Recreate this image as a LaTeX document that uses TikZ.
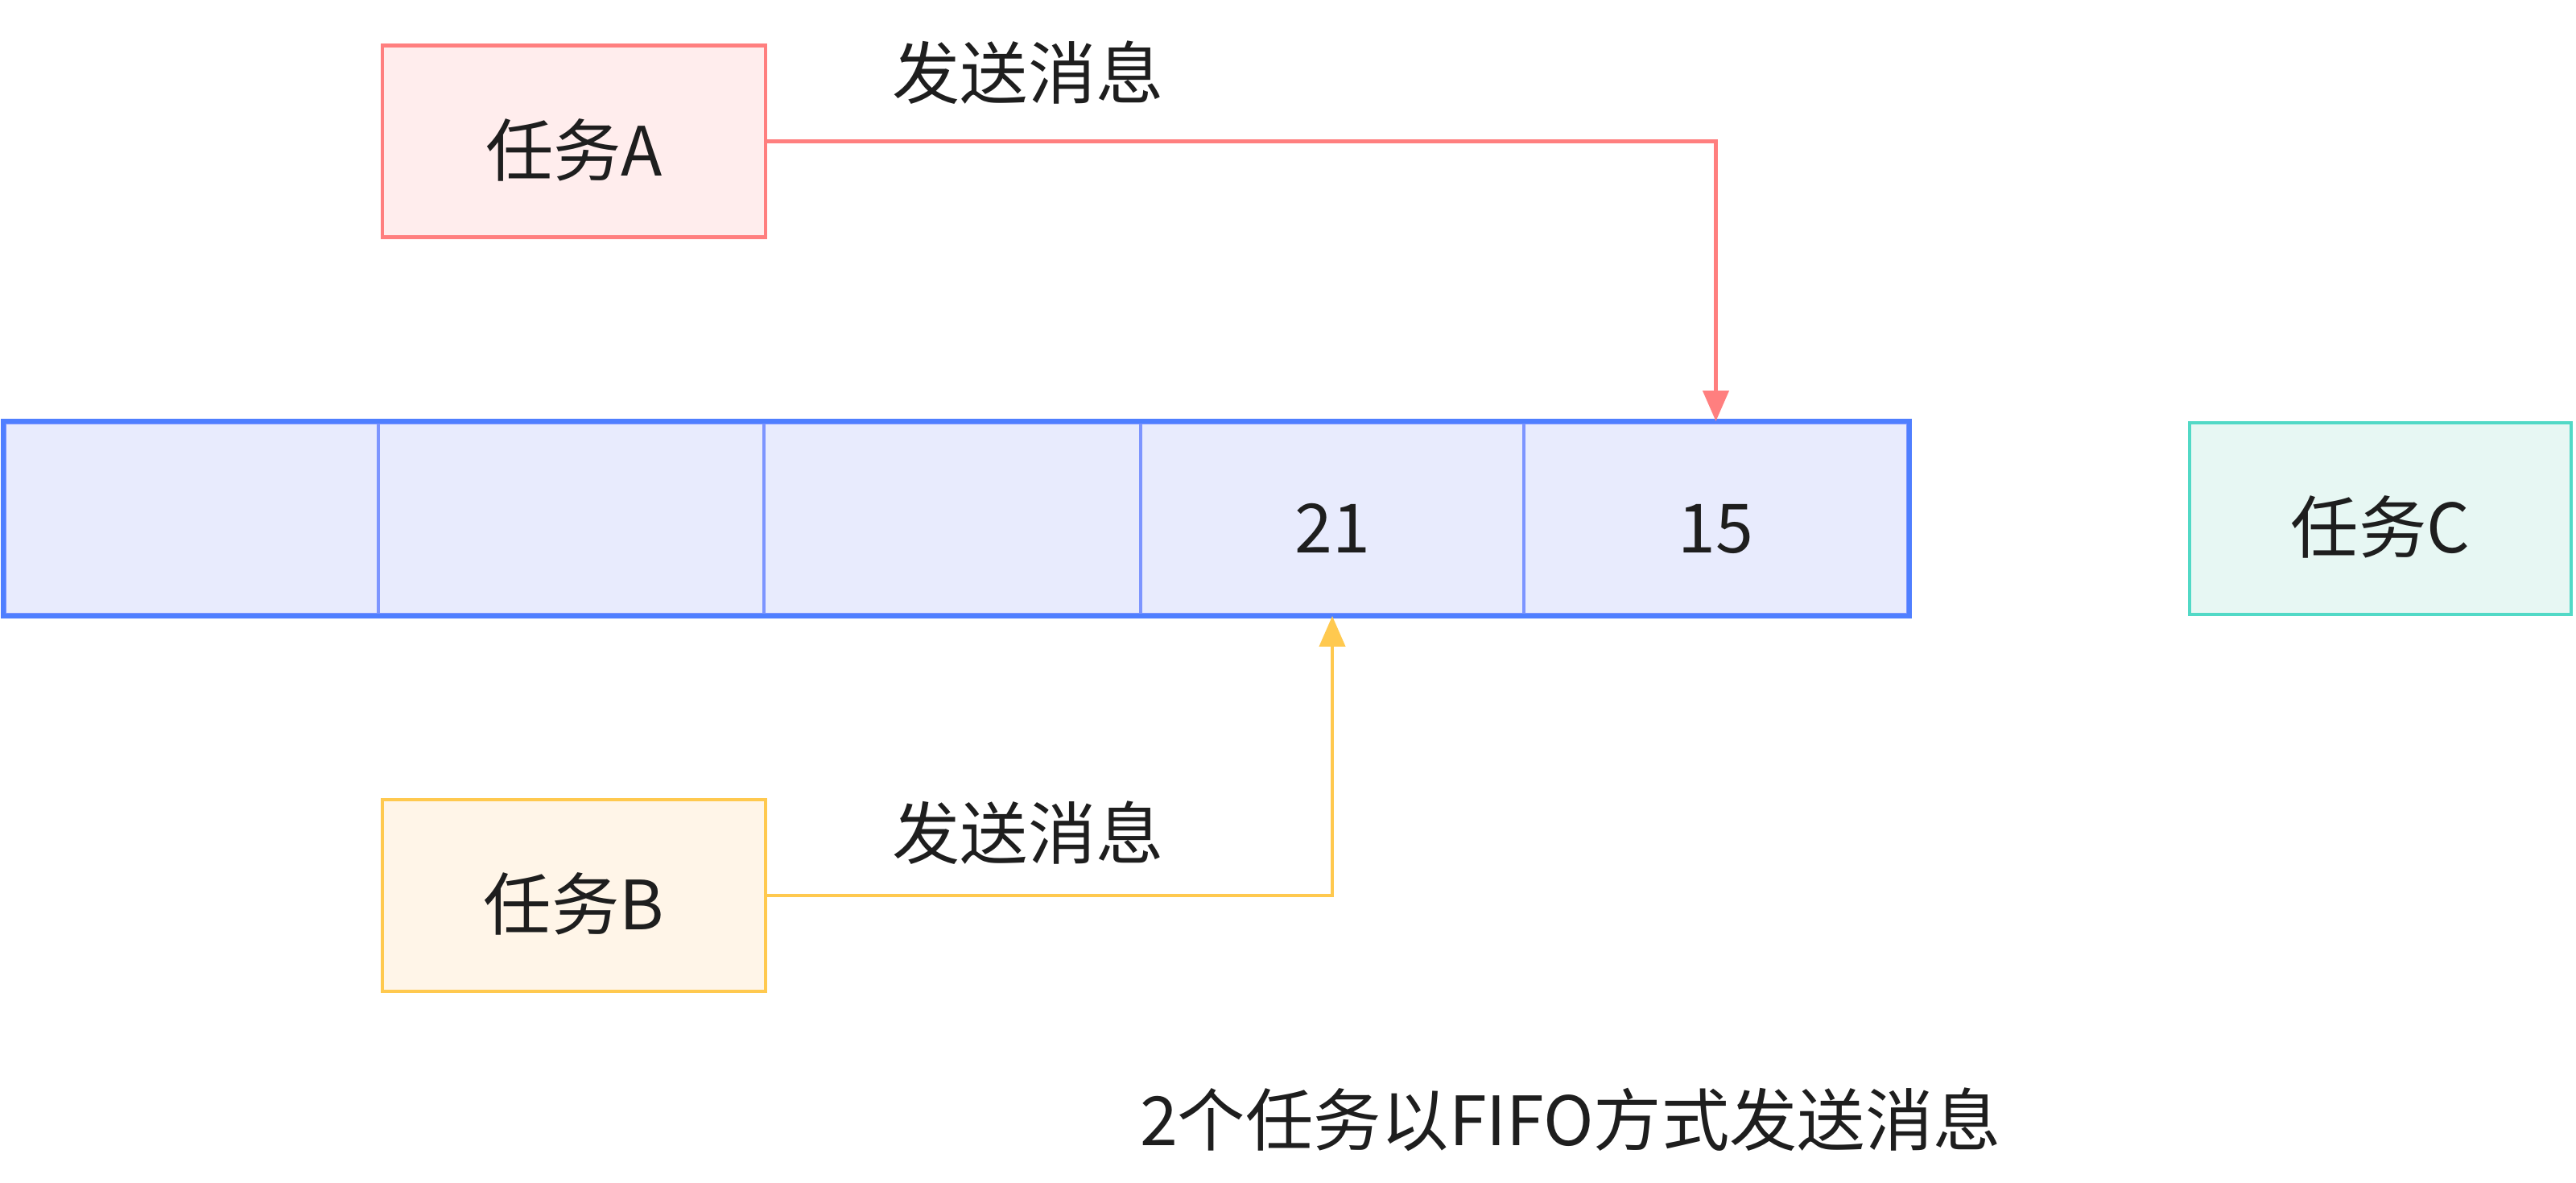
\documentclass[tikz,border=0pt]{standalone}
\usepackage{fontspec}
\setmainfont{Noto Sans CJK SC}
\usetikzlibrary{arrows.meta,positioning}
\definecolor{redline}{HTML}{FF7F7F}
\definecolor{redfill}{HTML}{FFEDED}
\definecolor{yelline}{HTML}{FFC94F}
\definecolor{yelfill}{HTML}{FFF5E8}
\definecolor{grnline}{HTML}{52D9C6}
\definecolor{grnfill}{HTML}{E7F7F3}
\definecolor{bluline}{HTML}{4F7FFF}
\definecolor{bludiv}{HTML}{7D95FF}
\definecolor{blufill}{HTML}{E8EBFD}
\definecolor{txt}{HTML}{1E1E1E}

\begin{document}
\begin{tikzpicture}[x=1cm, y=1cm,
    every node/.style={font=\fontsize{24}{29}\selectfont, text=txt},
    task/.style={rectangle, line width=1.4pt, minimum width=4.76cm, minimum height=2.38cm, text height=0.95cm, text depth=0.1cm},
    cell/.style={rectangle, draw=bludiv, fill=blufill, line width=1.1pt, minimum height=2.38cm, text height=0.95cm, text depth=0.1cm},
    msg/.style={line width=1.2pt, -{Triangle[length=0.38cm, width=0.32cm]}}]
        \useasboundingbox (0,0) rectangle (32,-14.69);

        \node[task, draw=redline, fill=redfill] (taskA) at (7.13,-1.755) {任务A};
        \node[task, draw=yelline, fill=yelfill] (taskB) at (7.13,-11.12) {任务B};
        \node[task, draw=grnline, fill=grnfill, minimum width=4.74cm] (taskC) at (29.57,-6.44) {任务C};

        \foreach \i/\l/\r/\v in {1/0.06/4.70/{},2/4.70/9.49/{},3/9.49/14.17/{},4/14.17/18.93/21,5/18.93/23.70/15}
            \node[cell, minimum width={(\r-\l)*1cm}] (c\i) at ({(\l+\r)/2},-6.44) {\v};
        \draw[bluline, line width=1.6pt] (c1.north west) rectangle (c5.south east);

        \draw[msg, redline] (taskA.east) -| (c5.north);
        \draw[msg, yelline] (taskB.east) -| (c4.south);

        \node (msgA) at (12.77,-0.90) {发送消息};
        \node (msgB) at (12.77,-10.34) {发送消息};

        \node (caption) at (19.51,-13.90) {2个任务以FIFO方式发送消息};
    \end{tikzpicture}
\end{document}
